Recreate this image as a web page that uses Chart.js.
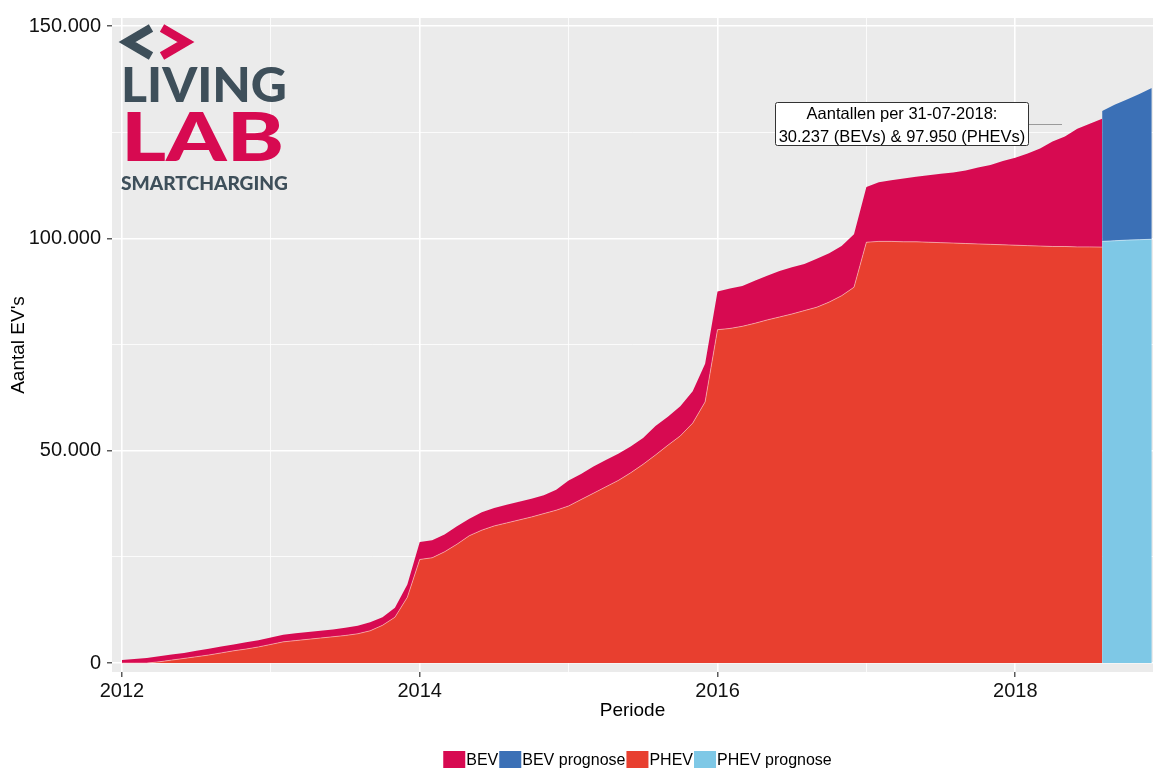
<!DOCTYPE html>
<html lang="nl">
<head>
<meta charset="utf-8">
<title>Aantal EV's</title>
<script src="https://cdn.jsdelivr.net/npm/chart.js@4.4.1/dist/chart.umd.min.js"></script>
<style>
  html, body { margin: 0; padding: 0; background: #ffffff; }
  #grafiek { display: block; }
</style>
</head>
<body>
<canvas id="grafiek" width="1154" height="768"></canvas>
<script>
// maandeinde waarop de stand geldt ('2011-12' = 31-12-2011)
const periode = [
    '2011-12',
    '2012-01', '2012-02', '2012-03', '2012-04', '2012-05', '2012-06', '2012-07', '2012-08', '2012-09', '2012-10', '2012-11', '2012-12',
    '2013-01', '2013-02', '2013-03', '2013-04', '2013-05', '2013-06', '2013-07', '2013-08', '2013-09', '2013-10', '2013-11', '2013-12',
    '2014-01', '2014-02', '2014-03', '2014-04', '2014-05', '2014-06', '2014-07', '2014-08', '2014-09', '2014-10', '2014-11', '2014-12',
    '2015-01', '2015-02', '2015-03', '2015-04', '2015-05', '2015-06', '2015-07', '2015-08', '2015-09', '2015-10', '2015-11', '2015-12',
    '2016-01', '2016-02', '2016-03', '2016-04', '2016-05', '2016-06', '2016-07', '2016-08', '2016-09', '2016-10', '2016-11', '2016-12',
    '2017-01', '2017-02', '2017-03', '2017-04', '2017-05', '2017-06', '2017-07', '2017-08', '2017-09', '2017-10', '2017-11', '2017-12',
    '2018-01', '2018-02', '2018-03', '2018-04', '2018-05', '2018-06', '2018-07'
];

const bev = [
    700,
    950, 1200, 1300, 1300, 1300, 1400, 1500, 1500, 1500, 1600, 1600, 1600,
    1700, 1700, 1700, 1700, 1700, 1800, 1900, 2000, 1900, 2200, 3000, 4100,
    4100, 4100, 4200, 4000, 4200, 4200, 4300, 4300, 4300, 4300, 4800, 6000,
    6000, 6300, 6300, 6300, 6200, 6200, 6800, 6700, 7000, 7500, 9000, 9000,
    9400, 9500, 10000, 10400, 10800, 11000, 11000, 11400, 11500, 11700, 12500, 13000,
    13900, 14400, 14900, 15300, 15800, 16200, 16600, 17200, 18000, 18700, 19700, 20600,
    21700, 23000, 24700, 25900, 27800, 29000, 30237
];

const phev = [
    0,
    0, 0, 300, 700, 1100, 1500, 1900, 2400, 2900, 3300, 3800, 4400,
    5000, 5300, 5600, 5900, 6200, 6500, 6900, 7600, 8900, 10800, 15500, 24400,
    24800, 26200, 28000, 30000, 31300, 32300, 33000, 33700, 34400, 35200, 36000, 37000,
    38500, 40000, 41500, 43000, 44800, 46800, 49000, 51300, 53500, 56500, 61500, 78500,
    78800, 79300, 80000, 80800, 81500, 82200, 83000, 83800, 85000, 86500, 88500, 99100,
    99300, 99300, 99200, 99200, 99100, 99000, 98900, 98800, 98700, 98600, 98500, 98400,
    98300, 98200, 98100, 98100, 98000, 98000, 97950
];

const prognosePeriode = ['2018-07', '2018-08', '2018-09', '2018-10', '2018-11'];
const bevPrognose = [30700, 32050, 33100, 34300, 35600];
const phevPrognose = [99300, 99450, 99600, 99700, 99800];

const jaarTicks = [2012, 2013, 2014, 2015, 2016, 2017, 2018];
const jaarLabels = ['2012', '', '2014', '', '2016', '', '2018'];
const aantalTicks = [0, 25000, 50000, 75000, 100000, 125000, 150000];
const aantalLabels = ['0', '', '50.000', '', '100.000', '', '150.000'];

const legendaVolgorde = ['BEV', 'BEV prognose', 'PHEV', 'PHEV prognose'];
const kleuren = {
    'BEV': '#D70A51',
    'BEV prognose': '#3B70B6',
    'PHEV': '#E83F2F',
    'PHEV prognose': '#7EC8E6'
};

const FONT = '"Liberation Sans", Arial, sans-serif';
const LOGO_FONT = 'Lato, "Open Sans", "DejaVu Sans", sans-serif';

function naarJaar(p) {
    const delen = p.split('-').map(Number);
    return delen[0] + delen[1] / 12;
}

function punten(perioden, waarden) {
    return perioden.map((p, i) => ({x: naarJaar(p), y: waarden[i]}));
}

// tekst op een vaste breedte zetten (logo)
function tekstPassend(ctx, tekst, x, y, breedte, font, kleur) {
    ctx.save();
    ctx.font = font;
    const w = ctx.measureText(tekst).width;
    ctx.translate(x, y);
    ctx.scale(breedte / w, 1);
    ctx.fillStyle = kleur;
    ctx.textBaseline = 'alphabetic';
    ctx.fillText(tekst, 0, 0);
    ctx.restore();
}

const paneelPlugin = {
    id: 'paneel',
    beforeDraw(chart) {
        const ctx = chart.ctx;
        const a = chart.chartArea;
        ctx.save();
        ctx.fillStyle = '#FFFFFF';
        ctx.fillRect(0, 0, chart.width, chart.height);
        ctx.fillStyle = '#EBEBEB';
        ctx.fillRect(a.left, a.top, a.right - a.left, a.bottom - a.top);
        ctx.restore();
    }
};

const logoPlugin = {
    id: 'logo',
    afterDraw(chart) {
        const ctx = chart.ctx;
        ctx.save();
        ctx.lineWidth = 8.5;
        ctx.lineJoin = 'miter';
        ctx.strokeStyle = '#3E4F5A';
        ctx.beginPath();
        ctx.moveTo(151, 28);
        ctx.lineTo(127, 42);
        ctx.lineTo(151, 56);
        ctx.stroke();
        ctx.strokeStyle = '#D70A51';
        ctx.beginPath();
        ctx.moveTo(162, 28);
        ctx.lineTo(186, 42);
        ctx.lineTo(162, 56);
        ctx.stroke();
        ctx.restore();

        tekstPassend(ctx, 'LIVING', 121, 102, 166, '900 47px ' + LOGO_FONT, '#3E4F5A');
        tekstPassend(ctx, 'LAB', 121, 161, 163, '900 66px ' + LOGO_FONT, '#D70A51');
        tekstPassend(ctx, 'SMARTCHARGING', 121, 190, 167, '900 18px ' + LOGO_FONT, '#3E4F5A');
    }
};

const labelPlugin = {
    id: 'aantallenLabel',
    afterDraw(chart) {
        const ctx = chart.ctx;
        ctx.save();
        ctx.strokeStyle = '#9A9A9A';
        ctx.lineWidth = 1;
        ctx.beginPath();
        ctx.moveTo(900, 124.5);
        ctx.lineTo(1062, 124.5);
        ctx.stroke();

        const x0 = 775.5, y0 = 102.5, w = 253, h = 43, r = 2;
        ctx.beginPath();
        ctx.roundRect(x0, y0, w, h, r);
        ctx.fillStyle = '#FFFFFF';
        ctx.fill();
        ctx.strokeStyle = '#333333';
        ctx.lineWidth = 1;
        ctx.stroke();

        ctx.fillStyle = '#000000';
        ctx.font = '16.5px ' + FONT;
        ctx.textAlign = 'center';
        ctx.textBaseline = 'alphabetic';
        ctx.fillText('Aantallen per 31-07-2018:', x0 + w / 2, 119);
        ctx.fillText('30.237 (BEVs) & 97.950 (PHEVs)', x0 + w / 2, 142);
        ctx.restore();
    }
};

const legendaPlugin = {
    id: 'legenda',
    afterDraw(chart) {
        const ctx = chart.ctx;
        ctx.save();
        ctx.font = '16px ' + FONT;
        const items = legendaVolgorde.map(naam => ({naam: naam, w: ctx.measureText(naam).width}));
        const totaal = items.reduce((s, it) => s + 23 + it.w + 1, 0);
        let x = 638 - totaal / 2;
        items.forEach(it => {
            ctx.fillStyle = kleuren[it.naam];
            ctx.fillRect(x, 751, 22, 17);
            ctx.fillStyle = '#000000';
            ctx.textBaseline = 'alphabetic';
            ctx.fillText(it.naam, x + 23, 765);
            x += 23 + it.w + 1;
        });
        ctx.restore();
    }
};

const datasets = [
    {
        label: 'PHEV',
        data: punten(periode, phev),
        stack: 'historie',
        backgroundColor: kleuren['PHEV'],
        borderColor: 'rgba(255,200,200,0.75)',
        borderWidth: 0.8,
        fill: 'origin'
    },
    {
        label: 'BEV',
        data: punten(periode, bev),
        stack: 'historie',
        backgroundColor: kleuren['BEV'],
        borderColor: 'rgba(0,0,0,0)',
        borderWidth: 0,
        fill: '-1'
    },
    {
        label: 'PHEV prognose',
        data: punten(prognosePeriode, phevPrognose),
        stack: 'prognose',
        backgroundColor: kleuren['PHEV prognose'],
        borderColor: 'rgba(220,240,250,0.8)',
        borderWidth: 0.8,
        fill: 'origin'
    },
    {
        label: 'BEV prognose',
        data: punten(prognosePeriode, bevPrognose),
        stack: 'prognose',
        backgroundColor: kleuren['BEV prognose'],
        borderColor: 'rgba(0,0,0,0)',
        borderWidth: 0,
        fill: '-1'
    }
];

const isMajorJaar = v => jaarLabels[jaarTicks.indexOf(v)] !== '';
const isMajorAantal = v => aantalLabels[aantalTicks.indexOf(v)] !== '';

new Chart(document.getElementById('grafiek').getContext('2d'), {
    type: 'line',
    data: {datasets: datasets},
    options: {
        responsive: false,
        animation: false,
        devicePixelRatio: 1,
        layout: {padding: {top: 14, right: 1, left: 0, bottom: 0}},
        elements: {
            point: {radius: 0, hoverRadius: 0},
            line: {tension: 0}
        },
        plugins: {
            legend: {display: false},
            tooltip: {enabled: false}
        },
        scales: {
            x: {
                type: 'linear',
                min: 2011.933,
                max: 2018.925,
                bounds: 'data',
                afterBuildTicks: schaal => { schaal.ticks = jaarTicks.map(v => ({value: v})); },
                afterFit: schaal => { schaal.height = 96; },
                border: {display: false},
                grid: {
                    color: '#FFFFFF',
                    lineWidth: c => isMajorJaar(c.tick.value) ? 1.6 : 0.8,
                    tickColor: c => isMajorJaar(c.tick.value) ? '#333333' : 'rgba(0,0,0,0)',
                    tickLength: 5,
                    tickWidth: 1.2
                },
                ticks: {
                    autoSkip: false,
                    maxRotation: 0,
                    padding: 2,
                    color: '#111111',
                    font: {size: 20, family: FONT},
                    callback: v => jaarLabels[jaarTicks.indexOf(v)]
                },
                title: {
                    display: true,
                    text: 'Periode',
                    color: '#000000',
                    font: {size: 19, family: FONT},
                    padding: {top: 0, bottom: 46}
                }
            },
            y: {
                type: 'linear',
                stacked: true,
                min: -2100,
                max: 151900,
                bounds: 'data',
                afterBuildTicks: schaal => { schaal.ticks = aantalTicks.map(v => ({value: v})); },
                afterFit: schaal => { schaal.width = 112; },
                border: {display: false},
                grid: {
                    color: '#FFFFFF',
                    lineWidth: c => isMajorAantal(c.tick.value) ? 1.6 : 0.8,
                    tickColor: c => isMajorAantal(c.tick.value) ? '#333333' : 'rgba(0,0,0,0)',
                    tickLength: 5,
                    tickWidth: 1.2
                },
                ticks: {
                    padding: 6,
                    color: '#111111',
                    font: {size: 20, family: FONT},
                    callback: v => aantalLabels[aantalTicks.indexOf(v)]
                },
                title: {
                    display: true,
                    text: "Aantal EV's",
                    color: '#000000',
                    font: {size: 19, family: FONT},
                    padding: {top: 7, bottom: 0}
                }
            }
        }
    },
    plugins: [paneelPlugin, logoPlugin, labelPlugin, legendaPlugin]
});
</script>
</body>
</html>
